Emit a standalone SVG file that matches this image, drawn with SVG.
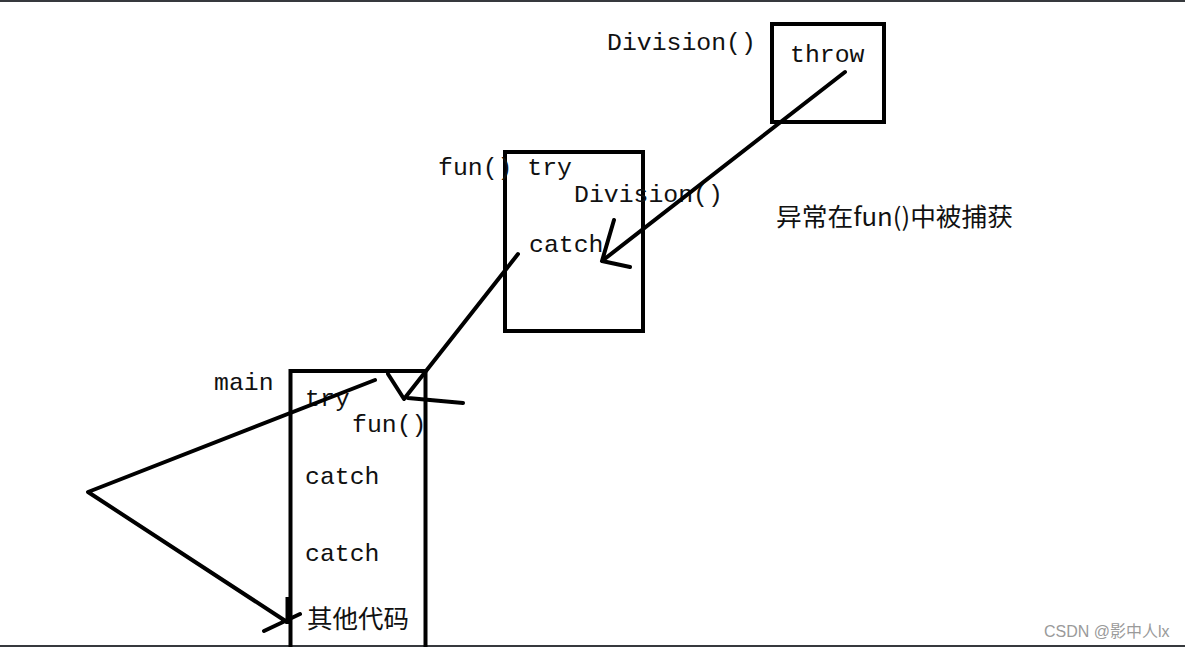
<svg xmlns="http://www.w3.org/2000/svg" width="1185" height="647" viewBox="0 0 1185 647">
<style>
.box{fill:none;stroke:#000;stroke-width:4}
.ln{fill:none;stroke:#000;stroke-width:4;stroke-linecap:round;stroke-linejoin:round}
.code{font-family:"Liberation Mono","DejaVu Sans Mono",monospace;font-size:24.8px;fill:#111}
.cn{font-family:"Noto Sans CJK SC","Noto Sans",sans-serif;fill:#111}
</style>
<rect x="0" y="0" width="1185" height="647" fill="#fff"/>
<rect x="0" y="0" width="1185" height="2" fill="#36393d"/>
<rect x="0" y="645" width="1185" height="2" fill="#36393d"/>

<g id="node-division">
<rect class="box" x="772" y="24" width="112" height="98"/>
<text class="code" x="607" y="50">Division()</text>
<text class="code" x="790" y="62">throw</text>
</g>

<g id="node-fun">
<rect class="box" x="505" y="152" width="138" height="179"/>
<text class="code" x="438" y="175">fun() try</text>
<text class="code" x="574" y="202">Division()</text>
<text class="code" x="529" y="252">catch</text>
</g>

<g id="node-main">
<rect class="box" x="290.5" y="371" width="135" height="290"/>
<text class="code" x="214" y="390">main</text>
<text class="code" x="305" y="406">try</text>
<text class="code" x="352" y="432">fun()</text>
<text class="code" x="305" y="484">catch</text>
<text class="code" x="305" y="561">catch</text>
<text class="cn" x="307" y="628" font-size="25.5">其他代码</text>
</g>

<g id="note">
<text class="cn" x="776" y="226" font-size="25" textLength="237" lengthAdjust="spacingAndGlyphs">异常在fun()中被捕获</text>
</g>

<g id="connectors">
<path class="ln" d="M845,72 L602,261 M614,220 L602,261 L630,267"/>
<path class="ln" d="M518,254 L404,399 L388,374 M408,398 L463,403"/>
<path class="ln" d="M375,380 L88,492 L287,622 M264,631 L300,614"/>
<path d="M288,597 L288,624" stroke="#000" stroke-width="5" fill="none"/>
</g>

<text x="1044" y="637" font-family="Liberation Sans, Noto Sans CJK SC, sans-serif" font-size="16" fill="#9a9a9a">CSDN @影中人lx</text>
</svg>
